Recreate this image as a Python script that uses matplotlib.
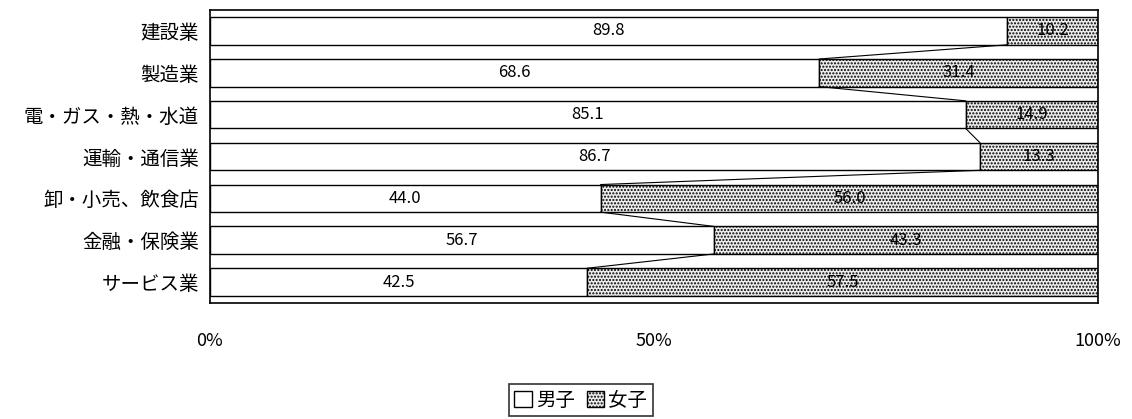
import matplotlib.pyplot as plt
import numpy as np
from matplotlib.patches import Patch

plt.rcParams['font.family'] = ['Noto Sans CJK JP', 'DejaVu Sans']

categories = ['建設業', '製造業', '電・ガス・熱・水道', '運輸・通信業', '卸・小売、飲食店', '金融・保険業', 'サービス業']
male = [89.8, 68.6, 85.1, 86.7, 44.0, 56.7, 42.5]
female = [10.2, 31.4, 14.9, 13.3, 56.0, 43.3, 57.5]

fig = plt.figure(figsize=(11.32, 4.19), dpi=100)
ax = fig.add_axes([0.1855, 0.277, 0.7845, 0.699])

y = np.arange(len(categories))
h = 0.66
ax.barh(y, male, height=h, color='white', edgecolor='black', linewidth=1)
ax.barh(y, female, left=male, height=h, color='#ececec', edgecolor='black',
        hatch='.....', linewidth=1)

for i in range(len(categories)):
    ax.text(male[i] / 2, y[i], f'{male[i]:.1f}', ha='center', va='center', fontsize=12)
    ax.text(male[i] + female[i] / 2, y[i], f'{female[i]:.1f}', ha='center', va='center', fontsize=12)
    if i < len(categories) - 1:
        ax.plot([male[i], male[i + 1]], [y[i] + h / 2, y[i + 1] - h / 2], color='black', lw=0.8)

ax.set_xlim(0, 100)
ax.set_ylim(len(categories) - 0.5, -0.5)
ax.set_yticks(y)
ax.set_yticklabels(categories, fontsize=14)
ax.set_xticks([0, 50, 100])
ax.set_xticklabels(['0%', '50%', '100%'], fontsize=13)
ax.tick_params(axis='x', length=0, pad=21)
ax.tick_params(axis='y', length=0, pad=8)
for s in ax.spines.values():
    s.set_linewidth(1.2)

handles = [Patch(facecolor='white', edgecolor='black', label='男子'),
           Patch(facecolor='#ececec', edgecolor='black', hatch='.....', label='女子')]
leg = fig.legend(handles=handles, loc='center', bbox_to_anchor=(0.513, 0.045), ncol=2,
                 fontsize=14, frameon=True, fancybox=False, edgecolor='black',
                 handlelength=0.9, handleheight=0.9, handletextpad=0.2, columnspacing=0.6,
                 borderpad=0.3)
leg.get_frame().set_linewidth(1.2)

fig.savefig('out.png', dpi=100)
